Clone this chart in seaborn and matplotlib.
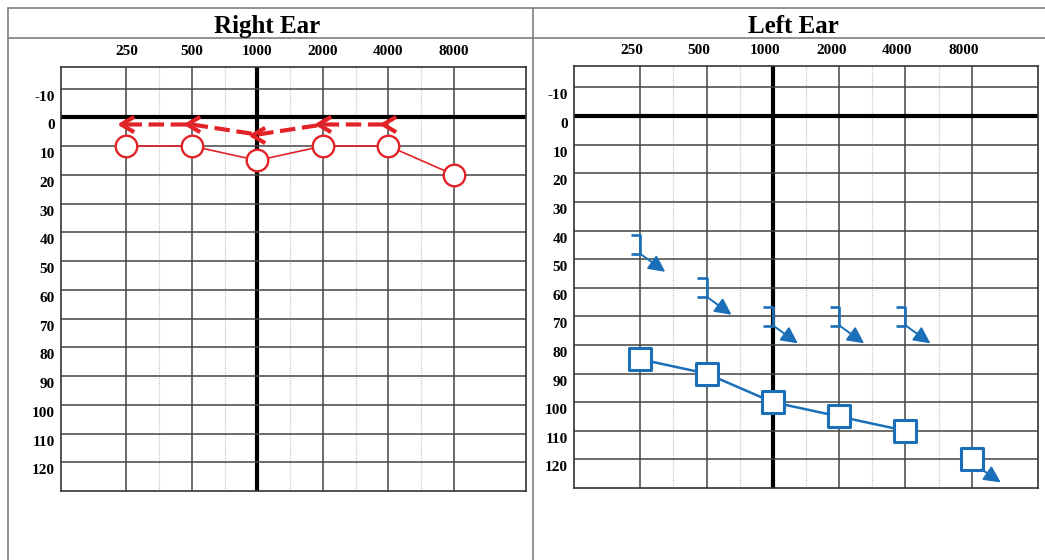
import numpy as np
import seaborn as sns
import matplotlib.pyplot as plt
import matplotlib.transforms as mtransforms
from matplotlib.lines import Line2D
from matplotlib.path import Path
from matplotlib.ticker import NullLocator

# audiogram values (dB HL)
freqs = [250, 500, 1000, 2000, 4000, 8000]
freq_labels = ["250", "500", "1000", "2000", "4000", "8000"]
db_levels = list(range(-10, 130, 10))

right_air = [10, 10, 15, 10, 10, 20]
right_bone_freqs = [250, 500, 1000, 2000, 4000]
right_bone = [2.5, 2.5, 6, 2.5, 2.5]

left_air = [85, 90, 100, 105, 110, 120]
left_air_no_response = [False, False, False, False, False, True]
left_bone_freqs = [250, 500, 1000, 2000, 4000]
left_bone = [45, 60, 70, 70, 70]
left_bone_no_response = [True, True, True, True, True]

RED = "#e32227"
BLUE = "#1a6fb8"

sns.set_style("white")
plt.rcParams["font.family"] = ["Liberation Serif", "DejaVu Serif"]
plt.rcParams["font.weight"] = "bold"
plt.rcParams["text.color"] = "black"
plt.rcParams["xtick.color"] = "black"
plt.rcParams["ytick.color"] = "black"

W, H = 1045, 560
fig = plt.figure(figsize=(W / 100, H / 100), dpi=100)


def px_box(left, top, right, bottom):
    return [left / W, 1 - bottom / H, (right - left) / W, (bottom - top) / H]


ax_r = fig.add_axes(px_box(61, 67, 526, 491))
ax_l = fig.add_axes(px_box(574, 66, 1038, 488))

# --- right ear: circles (air) and dashed chevrons (bone)
sns.lineplot(x=freqs, y=right_air, ax=ax_r, color=RED, lw=1.2, marker="o",
             markersize=15.5, markerfacecolor="white", markeredgecolor=RED,
             markeredgewidth=1.7, zorder=4)

chevron = Path([(1, 1), (-0.7, 0), (1, -1)], [Path.MOVETO, Path.LINETO, Path.LINETO])
sns.lineplot(x=right_bone_freqs, y=right_bone, ax=ax_r, color=RED, lw=3,
             linestyle="--", marker=chevron, markersize=11,
             markerfacecolor="none", markeredgecolor=RED, markeredgewidth=3,
             zorder=4)

# --- left ear: squares (air) and brackets (masked bone)
resp = [not nr for nr in left_air_no_response]
sns.lineplot(x=np.array(freqs)[resp], y=np.array(left_air)[resp], ax=ax_l,
             color=BLUE, lw=1.8, zorder=3)
sns.scatterplot(x=freqs, y=left_air, ax=ax_l, marker="s", s=250, color=BLUE,
                facecolor="white", edgecolor=BLUE, linewidth=2.2, zorder=4)

bracket = Path([(-1, 1), (0, 1), (0, -1), (-1, -1)],
               [Path.MOVETO, Path.LINETO, Path.LINETO, Path.LINETO])
sns.scatterplot(x=left_bone_freqs, y=left_bone, ax=ax_l, marker=bracket, s=190,
                color=BLUE, facecolor="none", edgecolor=BLUE, linewidth=1.9,
                zorder=4)


def no_response_arrow(ax, f, v, tail, head):
    ax.annotate("", xy=(f, v),
                xycoords=mtransforms.offset_copy(ax.transData, fig=fig, x=head[0], y=head[1], units="dots"),
                xytext=(f, v),
                textcoords=mtransforms.offset_copy(ax.transData, fig=fig, x=tail[0], y=tail[1], units="dots"),
                arrowprops=dict(arrowstyle="-|>", color=BLUE, lw=1.4,
                                mutation_scale=25, shrinkA=0, shrinkB=0),
                zorder=5)


for f, v, nr in zip(left_bone_freqs, left_bone, left_bone_no_response):
    if nr:
        no_response_arrow(ax_l, f, v, (0, -9), (25, -27))
for f, v, nr in zip(freqs, left_air, left_air_no_response):
    if nr:
        no_response_arrow(ax_l, f, v, (10, -10), (29, -23))


def setup_audiogram(ax, xmax):
    ax.set_xscale("log", base=2)
    ax.set_xlim(freqs[0] / 2, xmax)
    ax.set_ylim(130, -17.5)
    ax.xaxis.set_minor_locator(NullLocator())
    ax.set_xticks(freqs, freq_labels)
    ax.set_yticks(db_levels, [str(v) for v in db_levels])
    ax.xaxis.tick_top()
    ax.tick_params(axis="x", length=0, pad=6.5, labelsize=11, labelcolor="black")
    ax.tick_params(axis="y", length=0, pad=4.5, labelsize=11, labelcolor="black")
    for f in freqs:
        ax.axvline(f, color="black" if f == 1000 else "#444444",
                   lw=3 if f == 1000 else 1.1, zorder=1)
    for lo, hi in zip(freqs[:-1], freqs[1:]):
        ax.axvline(np.sqrt(lo * hi), color="#c4c4c4", lw=0.9, ls=(0, (1, 1)), zorder=0.5)
    for d in db_levels:
        ax.axhline(d, color="black" if d == 0 else "#444444",
                   lw=3 if d == 0 else 1.1, zorder=1)
    for s in ax.spines.values():
        s.set_visible(True)
        s.set_color("#333333")
        s.set_linewidth(1.2)
    ax.set_xlabel("")
    ax.set_ylabel("")


setup_audiogram(ax_r, 125 * 2 ** 7.1)
setup_audiogram(ax_l, 16000)

# outer frame and headers
frame_kw = dict(color="#7f7f7f", lw=1.2, transform=fig.transFigure)


def fig_line(xs, ys):
    fig.add_artist(Line2D([x / W for x in xs], [1 - y / H for y in ys], **frame_kw))


fig_line([8, W], [8, 8])
fig_line([8, W], [38, 38])
fig_line([8, 8], [8, H])
fig_line([533, 533], [8, H])

fig.text(267 / W, 1 - 33 / H, "Right Ear", ha="center", va="baseline",
         fontsize=18, fontweight="bold", color="black")
fig.text(793 / W, 1 - 33 / H, "Left Ear", ha="center", va="baseline",
         fontsize=18, fontweight="bold", color="black")

# nudge tick labels to where the reference puts them
for ax, dx in [(ax_r, 0), (ax_l, -8)]:
    for lab in ax.get_xticklabels():
        lab.set_transform(lab.get_transform() + mtransforms.Affine2D().translate(dx, 0))
    for lab in ax.get_yticklabels():
        lab.set_transform(lab.get_transform() + mtransforms.Affine2D().translate(0, -7))

fig.savefig("out.png", dpi=100)
